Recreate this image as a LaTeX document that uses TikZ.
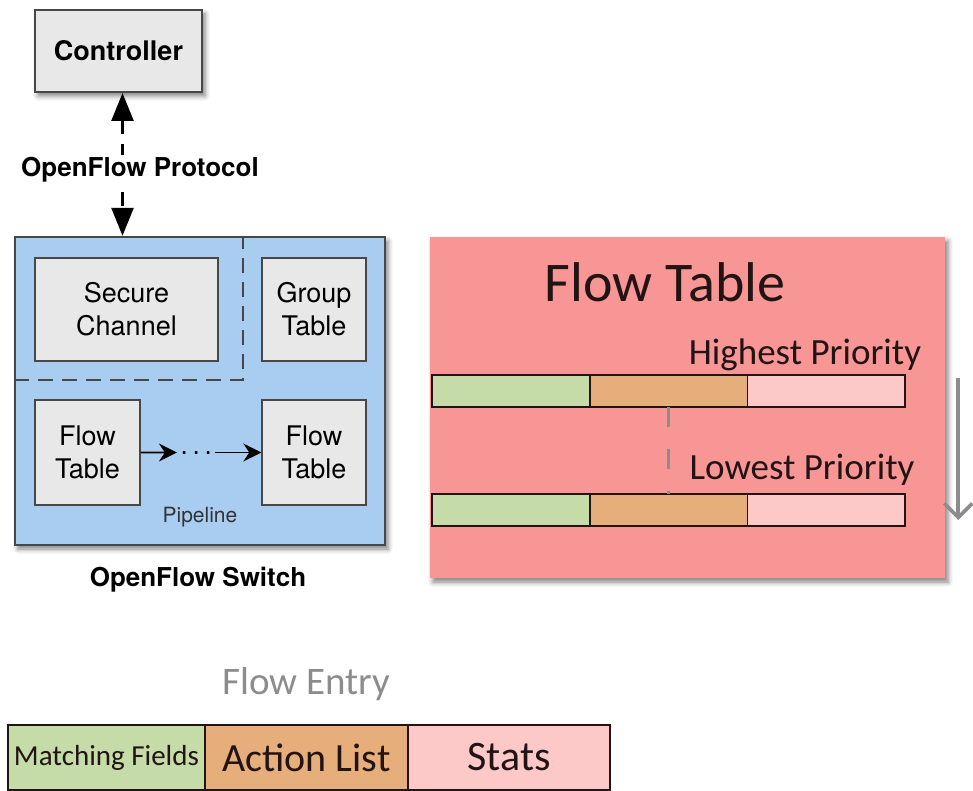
\documentclass[tikz,border=0pt]{standalone}
\usepackage{fontspec}
\setmainfont{TeX Gyre Heros}
\newfontfamily\calfont{Carlito}
\usetikzlibrary{arrows.meta}
\usetikzlibrary{positioning,calc,shadows.blur}
\tikzset{>={Triangle[length=14pt,width=11pt]}}
\definecolor{boxgray}{HTML}{E8E8E8}
\definecolor{edgegray}{HTML}{474747}
\definecolor{switchblue}{HTML}{A9CDF0}
\definecolor{tablepink}{HTML}{F89696}
\definecolor{matchgreen}{HTML}{C5DCA8}
\definecolor{actionorange}{HTML}{E5AE7B}
\definecolor{statspink}{HTML}{FCC8C8}
\definecolor{arrowgray}{HTML}{8C8C8C}
\definecolor{inkdark}{HTML}{221414}
\newcommand{\FS}[2]{\fontsize{#1}{#2}\selectfont}

\tikzset{
  boxshadow/.style={blur shadow={shadow xshift=1.5pt, shadow yshift=-2pt,
      shadow blur radius=2.5pt, shadow opacity=50}},
  ctrlbox/.style={draw=edgegray, line width=1pt, fill=boxgray, boxshadow,
    minimum width=83.5pt, minimum height=41pt, font=\bfseries\FS{13.5}{16}},
  inbox/.style={draw=edgegray, line width=0.7pt, fill=boxgray, align=center,
    inner sep=0pt, font=\FS{13.5}{16.5}},
  pipe/.style={-{Stealth[length=9pt,width=9pt,inset=3pt]}, line width=0.9pt},
  seg/.style={draw=inkdark, line width=0.9pt, minimum height=16pt,
    minimum width=78.85pt, inner sep=0pt, outer sep=0pt},
  entry/.style={draw=inkdark, line width=0.9pt, minimum height=32.5pt,
    inner sep=0pt, outer sep=0pt, text=inkdark},
  prio/.style={font=\calfont\FS{18.5}{21}, text=inkdark},
}

\begin{document}
\begin{tikzpicture}[x=0.5pt, y=-0.5pt]
  \useasboundingbox (0,0) rectangle (973,791);

  %% controller and the switch around its tables
  \node[ctrlbox] (ctrl) at (118.5,51) {Controller};
  \node[draw=edgegray, line width=1.2pt, fill=switchblue, boxshadow,
    minimum width=185pt, minimum height=154pt] (sw) at (200,391) {};

  \node[inbox, minimum width=91.5pt, minimum height=51.5pt] (sec)
  at (126.5,309.5) {Secure\\Channel};
  \node[inbox, minimum width=52pt, minimum height=51.5pt] (grp)
  at (314,309.5) {Group\\Table};
  \node[inbox, minimum width=52.5pt, minimum height=52.5pt] (ftl)
  at (87.5,452.5) {Flow\\Table};
  \node[inbox, minimum width=52pt, minimum height=52.5pt] (ftr)
  at (314,452.5) {Flow\\Table};

  %% dashed corner round the secure channel
  \coordinate (cut) at (243,380);
  \draw[edgegray, line width=1.4pt, dash pattern=on 7.5pt off 4.5pt]
  (sw.west |- cut) -- (cut) -- (cut |- sw.north);

  \node[font=\FS{10.5}{12}, text=black!80] (pipeline) at (200,517) {Pipeline};
  \node[font=\bfseries\FS{13}{15}] (swname) at (198,580) {OpenFlow Switch};

  %% protocol link
  \draw[<->, line width=1.3pt, dash pattern=on 7pt off 5pt]
  ([xshift=2pt]ctrl.south) --
  node[fill=white, inner sep=1pt, xshift=8.75pt, yshift=-2.75pt,
    font=\bfseries\FS{13}{15}] (proto) {OpenFlow Protocol}
  ([xshift=2pt]ctrl.south |- sw.north);

  %% pipeline from table to table
  \coordinate (d1) at ($(ftl.east)!0.30!(ftr.west)$);
  \coordinate (d2) at ($(ftl.east)!0.62!(ftr.west)$);
  \draw[pipe] (ftl.east) -- (d1);
  \draw[line width=1.3pt, dash pattern=on 1.3pt off 4.7pt] ([xshift=3pt]d1) -- (d2);
  \draw[pipe] (d2) -- (ftr.west);

  %% flow table with two entries
  \node[fill=tablepink, boxshadow, minimum width=257.5pt,
    minimum height=170.5pt, inner sep=0pt] (ftbox) at (687.5,407.5) {};
  \node[font=\calfont\FS{28}{32}, text=inkdark] (fttitle) at (665,282) {Flow Table};

  \node[prio] (hi) at (805,355) {Highest Priority};
  \node[seg, fill=matchgreen] (h1) at (511,391) {};
  \node[seg, fill=actionorange, right=0pt of h1] (h2) {};
  \node[seg, fill=statspink, right=0pt of h2] (h3) {};

  \node[prio] (lo) at (802,470) {Lowest Priority};
  \node[seg, fill=matchgreen] (l1) at (511,510) {};
  \node[seg, fill=actionorange, right=0pt of l1] (l2) {};
  \node[seg, fill=statspink, right=0pt of l2] (l3) {};

  \draw[arrowgray, line width=1.5pt, dash pattern=on 10pt off 11pt]
  (h2.south) -- (l2.north);
  \draw[arrowgray, line width=1.8pt, shorten >=3pt,
    -{Straight Barb[length=7pt,width=14pt]}]
  ([xshift=26.5pt,yshift=-1.5pt]h3.north east) -- ([xshift=26.5pt]l3.south east);

  %% one entry spelled out
  \node[font=\calfont\FS{19.5}{22}, text=arrowgray] (fetitle) at (306,684) {Flow Entry};
  \node[entry, fill=matchgreen, minimum width=98.5pt,
    font=\calfont\FS{14.5}{16}] (mf) at (106.5,757.5) {Matching Fields};
  \node[entry, fill=actionorange, minimum width=101.5pt, right=0pt of mf,
    font=\calfont\FS{20}{22}] (al) {Action List};
  \node[entry, fill=statspink, minimum width=101pt, right=0pt of al,
    font=\calfont\FS{21}{23}] (st) {Stats};

\end{tikzpicture}
\end{document}
